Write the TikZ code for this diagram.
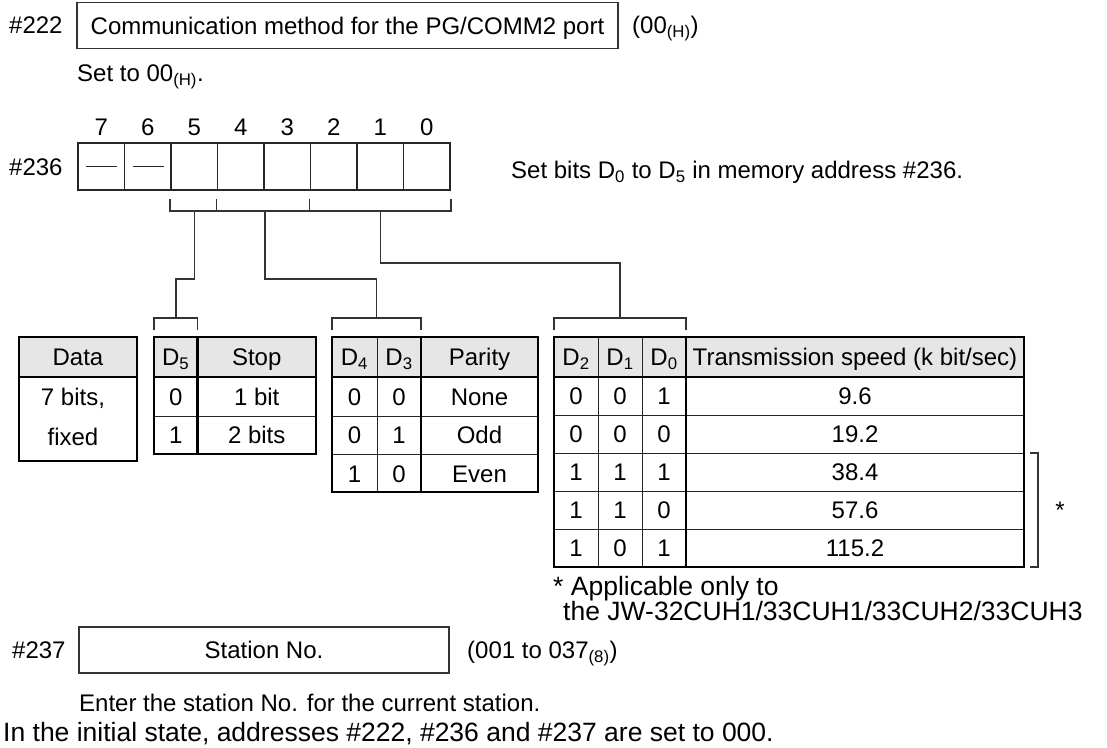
\documentclass[tikz,border=0pt]{standalone}
\usepackage{fontspec}
\setmainfont{Liberation Sans}

\newcommand*{\dsub}[1]{\textsubscript{#1}}
\newcommand*{\bitx}{78}
\newcommand*{\celw}{46.5}
\definecolor{hdrgray}{HTML}{E6E6E6}

\begin{document}
\begin{tikzpicture}
[
	x=1pt,y=-1pt,
	font=\fontsize{24}{28}\selectfont,
	txt/.style={inner sep=0pt,text height=17pt,text depth=0pt},
	bigtxt/.style={inner sep=0pt,text height=19pt,text depth=0pt,font=\fontsize{26.5}{30}\selectfont},
	bitcell/.style={draw=black!85,line width=1.6pt,minimum width=46.5pt,minimum height=47pt,inner sep=0pt},
	addrbox/.style={draw=black!80,line width=1.4pt,inner sep=0pt,minimum height=46pt,text height=17pt,text depth=0pt},
	link/.style={black!80,line width=1.5pt},
	thinln/.style={black!85,line width=1pt},
	thickln/.style={black,line width=2.2pt}
]

	\useasboundingbox (0,0) rectangle (1107,747);

	% address 222
	\node[txt,anchor=west] (a222) at (9,25) {\#222};
	\node[addrbox,minimum width=541pt] (box222) at (347.5,25.5) {Communication method for the PG/COMM2 port};
	\node[txt,anchor=west] (r222) at (632,25) {(00\dsub{(H)})};
	\node[txt,anchor=west] (n222) at (77,73) {Set to 00\dsub{(H)}.};

	% address 236, bit cells
	\node[txt,anchor=west] (a236) at (9,167) {\#236};
	\foreach \i [evaluate=\i as \b using int(7-\i)] in {0,...,7} {
		\node[bitcell] (bit\b) at ({\bitx+\celw*(\i+0.5)},166.5) {};
		\node[txt] (num\b) at ({\bitx+\celw*(\i+0.5)},127) {\b};
	}
	\draw[thinln] ([xshift=9pt]bit7.west) -- ([xshift=-8pt]bit7.east);
	\draw[thinln] ([xshift=9pt]bit6.west) -- ([xshift=-8pt]bit6.east);
	\node[txt,anchor=west] (n236) at (511,170) {Set bits D\dsub{0} to D\dsub{5} in memory address \#236.};

	% bracket under bits
	\draw[link] ([yshift=-8pt]bit5.south west) -- ([yshift=-20pt]bit5.south west)
		-- ([yshift=-20pt]bit0.south east) -- ([yshift=-8pt]bit0.south east);
	\draw[link] ([yshift=-8pt]bit4.south west) -- ([yshift=-20pt]bit4.south west);
	\draw[link] ([yshift=-8pt]bit2.south west) -- ([yshift=-20pt]bit2.south west);
	\coordinate (drop5) at ([yshift=-20pt]bit5.south);
	\coordinate (drop43) at ([yshift=-20pt]bit4.south east);
	\coordinate (drop20) at ([yshift=-20pt]bit1.south);

	% brackets over the tables
	\coordinate (tb5) at (175.75,318);
	\coordinate (tb43) at (376.5,318);
	\coordinate (tb20) at (620,318);
	\draw[link] (154,330) -- (154,318) -- (197.5,318) -- (197.5,330);
	\draw[link] (332,330) -- (332,318) -- (421,318) -- (421,330);
	\draw[link] (554,330) -- (554,318) -- (686,318) -- (686,330);
	\draw[link] (drop5) -- ++(0,68) -| (tb5);
	\draw[link] (drop43) -- ++(0,68) -| (tb43);
	\draw[link] (drop20) -- ++(0,52) -| (tb20);

	% data table
	\fill[hdrgray] (19,337) rectangle (137,377);
	\draw[thickln] (19,377) -- (137,377);
	\draw[thickln] (19,337) rectangle (137,461);
	\node[txt] (hdata) at (78,357) {Data};
	\node[txt] (data1) at (73,397) {7 bits,};
	\node[txt] (data2) at (73,437) {fixed};

	% stop table
	\fill[hdrgray] (154,337) rectangle (316,377);
	\draw[thinln] (154,416) -- (316,416);
	\draw[thickln] (154,377) -- (316,377);
	\draw[thickln] (197.5,337) -- (197.5,454);
	\draw[thickln] (154,337) rectangle (316,454);
	\node[txt] (hd5) at (175.75,357) {D\dsub{5}};
	\node[txt] (hstop) at (256.75,357) {Stop};
	\foreach \a/\v [count=\r] in {0/1 bit,1/2 bits} {
		\node[txt] (st\r a) at (175.75,{396.5+38.5*(\r-1)}) {\a};
		\node[txt] (st\r v) at (256.75,{396.5+38.5*(\r-1)}) {\v};
	}

	% parity table
	\fill[hdrgray] (332,337) rectangle (538,377);
	\foreach \y in {416,454} {
		\draw[thinln] (332,\y) -- (538,\y);
	}
	\draw[thinln] (377,337) -- (377,492);
	\draw[thickln] (332,377) -- (538,377);
	\draw[thickln] (421,337) -- (421,492);
	\draw[thickln] (332,337) rectangle (538,492);
	\node[txt] (hd4) at (354.5,357) {D\dsub{4}};
	\node[txt] (hd3) at (399,357) {D\dsub{3}};
	\node[txt] (hpar) at (479.5,357) {Parity};
	\foreach \a/\b/\v [count=\r] in {0/0/None,0/1/Odd,1/0/Even} {
		\node[txt] (pa\r a) at (354.5,{396.5+38.5*(\r-1)}) {\a};
		\node[txt] (pa\r b) at (399,{396.5+38.5*(\r-1)}) {\b};
		\node[txt] (pa\r v) at (479.5,{396.5+38.5*(\r-1)}) {\v};
	}

	% speed table
	\fill[hdrgray] (554,337) rectangle (1024,377);
	\foreach \y in {415,453,491,529} {
		\draw[thinln] (554,\y) -- (1024,\y);
	}
	\foreach \x in {598,642} {
		\draw[thinln] (\x,337) -- (\x,567);
	}
	\draw[thickln] (554,377) -- (1024,377);
	\draw[thickln] (686,337) -- (686,567);
	\draw[thickln] (554,337) rectangle (1024,567);
	\node[txt] (hd2) at (576,357) {D\dsub{2}};
	\node[txt] (hd1) at (620,357) {D\dsub{1}};
	\node[txt] (hd0) at (664,357) {D\dsub{0}};
	\node[txt] (hspd) at (855,357) {Transmission speed (k bit/sec)};
	\foreach \a/\b/\c/\v [count=\r] in {0/0/1/9.6,0/0/0/19.2,1/1/1/38.4,1/1/0/57.6,1/0/1/115.2} {
		\node[txt] (sp\r a) at (576,{396+38*(\r-1)}) {\a};
		\node[txt] (sp\r b) at (620,{396+38*(\r-1)}) {\b};
		\node[txt] (sp\r c) at (664,{396+38*(\r-1)}) {\c};
		\node[txt] (sp\r v) at (855,{396+38*(\r-1)}) {\v};
	}

	% note on the fast speeds
	\draw[link] (1030,453) -- (1038,453) -- (1038,567) -- (1030,567);
	\node[txt] (star) at (1060,510) {*};
	\node[bigtxt,anchor=west] (foot1) at (553,586) {* Applicable only to};
	\node[bigtxt,anchor=west] (foot2) at (563,611) {the JW-32CUH1/33CUH1/33CUH2/33CUH3};

	% address 237
	\node[txt,anchor=west] (a237) at (12,650) {\#237};
	\node[addrbox,minimum width=370pt] (box237) at (264,650) {Station No.};
	\node[txt,anchor=west] (r237) at (467,650) {(001 to 037\dsub{(8)})};
	\node[txt,anchor=west] (n237) at (79,703) {Enter the station No. for the current station.};

	\node[bigtxt,anchor=west] (init) at (3,732) {In the initial state, addresses \#222, \#236 and \#237 are set to 000.};

\end{tikzpicture}
\end{document}
